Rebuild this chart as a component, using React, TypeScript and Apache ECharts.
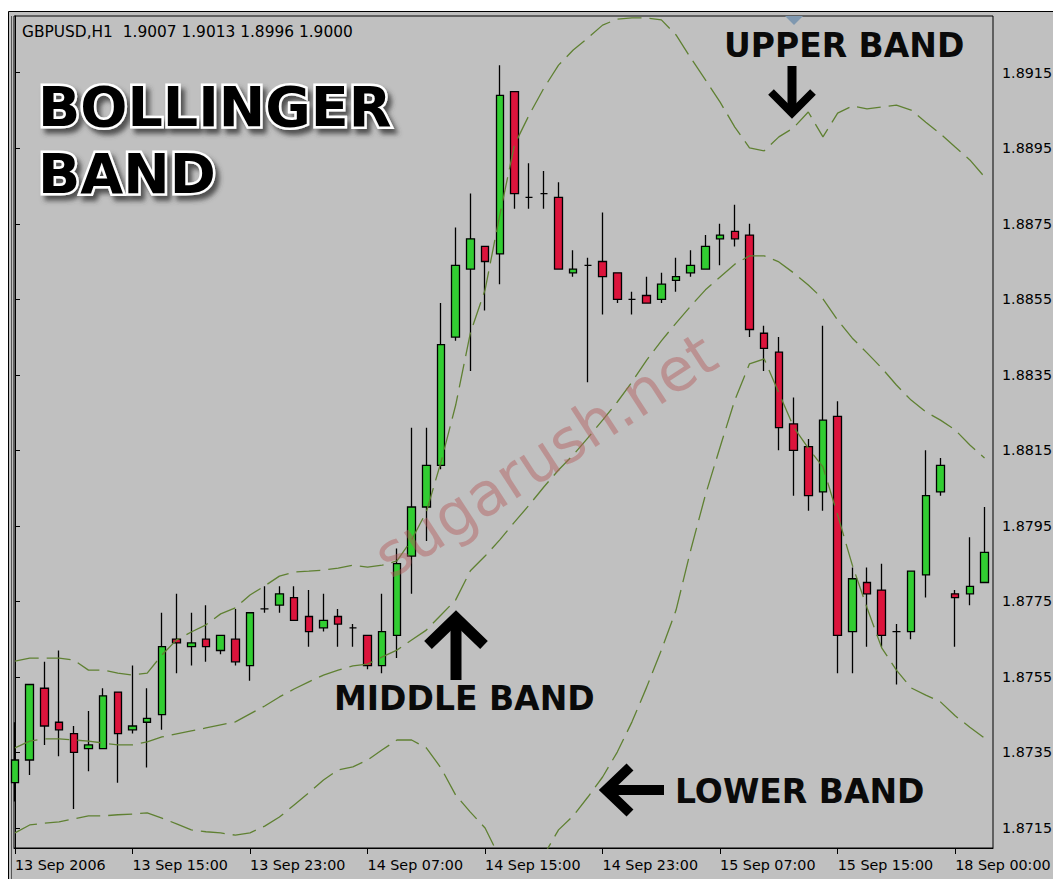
import React, { useEffect, useRef } from "react";
import * as echarts from "echarts";

const xTickBars = [0, 8, 16, 24, 32, 40, 48, 56, 64];
const xTickLabels = [
  "13 Sep 2006",
  "13 Sep 15:00",
  "13 Sep 23:00",
  "14 Sep 07:00",
  "14 Sep 15:00",
  "14 Sep 23:00",
  "15 Sep 07:00",
  "15 Sep 15:00",
  "18 Sep 00:00",
];
const priceTicks = [1.8715, 1.8735, 1.8755, 1.8775, 1.8795, 1.8815, 1.8835, 1.8855, 1.8875, 1.8895, 1.8915];

const opens = [
  1.8727, 1.8733, 1.8752, 1.8743, 1.874, 1.8736, 1.8736, 1.8751, 1.8741, 1.8743,
  1.8745, 1.8765, 1.8763, 1.8765, 1.8762, 1.8765, 1.8758, 1.8773, 1.8774, 1.8776,
  1.8771, 1.8768, 1.8771, 1.8768, 1.8766, 1.8758, 1.8766, 1.8787, 1.88, 1.8811,
  1.8845, 1.8863, 1.8869, 1.8867, 1.891, 1.8882, 1.8883, 1.8882, 1.8862, 1.8864,
  1.8865, 1.8862, 1.8855, 1.8856, 1.8855, 1.886, 1.8862, 1.8863, 1.8871, 1.8873,
  1.8872, 1.8846, 1.8841, 1.8822, 1.8816, 1.8804, 1.8824, 1.8767, 1.878, 1.8778,
  1.8767, 1.8767, 1.8782, 1.8804, 1.8777, 1.8777, 1.878,
];
const closes = [
  1.8733, 1.8753, 1.8742, 1.8741, 1.8735, 1.8737, 1.875, 1.874, 1.8742, 1.8744,
  1.8763, 1.8764, 1.8764, 1.8763, 1.8766, 1.8759, 1.8772, 1.8773, 1.8777, 1.877,
  1.8767, 1.877, 1.8769, 1.8768, 1.8758, 1.8767, 1.8785, 1.88, 1.8811, 1.8843,
  1.8864, 1.8871, 1.8865, 1.8909, 1.8883, 1.8882, 1.8883, 1.8863, 1.8863, 1.8864,
  1.8861, 1.8855, 1.8855, 1.8854, 1.8859, 1.8861, 1.8864, 1.8869, 1.8872, 1.8871,
  1.8847, 1.8842, 1.8821, 1.8815, 1.8803, 1.8823, 1.8766, 1.8781, 1.8777, 1.8766,
  1.8767, 1.8783, 1.8803, 1.8811, 1.8776, 1.8779, 1.8788,
];
const highs = [
  1.8743, 1.8753, 1.8759, 1.8762, 1.8742, 1.8746, 1.8752, 1.8751, 1.8758, 1.8752,
  1.8772, 1.8777, 1.8772, 1.8774, 1.8766, 1.8773, 1.8772, 1.8779, 1.8779, 1.8779,
  1.8778, 1.8777, 1.8773, 1.8769, 1.8766, 1.8777, 1.8789, 1.8821, 1.8821, 1.8854,
  1.8874, 1.8883, 1.8869, 1.8917, 1.891, 1.8891, 1.8889, 1.8886, 1.8868, 1.8866,
  1.8878, 1.8862, 1.8857, 1.8861, 1.8862, 1.8866, 1.8868, 1.8872, 1.8875, 1.888,
  1.8875, 1.8848, 1.8845, 1.8829, 1.8818, 1.8848, 1.8828, 1.8784, 1.8784, 1.8785,
  1.8769, 1.8783, 1.8815, 1.8813, 1.8778, 1.8792, 1.88,
];
const lows = [
  1.8722, 1.8729, 1.8737, 1.8734, 1.872, 1.873, 1.8736, 1.8727, 1.874, 1.8731,
  1.8741, 1.8756, 1.8758, 1.8759, 1.8761, 1.8758, 1.8754, 1.8772, 1.8772, 1.877,
  1.8763, 1.8767, 1.8763, 1.8763, 1.8757, 1.8756, 1.876, 1.8777, 1.8791, 1.881,
  1.8844, 1.8836, 1.8852, 1.8859, 1.8879, 1.8879, 1.8879, 1.8863, 1.8861, 1.8833,
  1.8851, 1.8854, 1.8851, 1.8854, 1.8854, 1.8857, 1.8861, 1.8863, 1.8864, 1.8869,
  1.8845, 1.8836, 1.8815, 1.8803, 1.8799, 1.8799, 1.8756, 1.8756, 1.8763, 1.8763,
  1.8753, 1.8765, 1.8776, 1.8803, 1.8763, 1.8774, 1.878,
];

const upperBand = [
  1.87592, 1.876, 1.876, 1.876, 1.87595, 1.87568, 1.87568, 1.8756, 1.87555, 1.8756,
  1.87608, 1.87648, 1.87669, 1.87688, 1.87717, 1.87733, 1.87767, 1.87791, 1.87817, 1.87828,
  1.8783, 1.87833, 1.87838, 1.87846, 1.87841, 1.87846, 1.87857, 1.87913, 1.87987, 1.88119,
  1.8827, 1.88461, 1.88575, 1.88773, 1.88959, 1.89038, 1.89109, 1.8917, 1.8921, 1.89242,
  1.89276, 1.89292, 1.89295, 1.89295, 1.8929, 1.8925, 1.89189, 1.89131, 1.89072, 1.89006,
  1.88951, 1.88943, 1.8898, 1.89004, 1.89046, 1.8898, 1.89043, 1.89062, 1.89054, 1.89059,
  1.89064, 1.89051, 1.89019, 1.88988, 1.88953, 1.88919, 1.88874,
];
const middleBand = [
  1.87362, 1.8738, 1.87386, 1.87386, 1.87383, 1.8738, 1.87375, 1.8737, 1.8737, 1.87378,
  1.87391, 1.87399, 1.87407, 1.87415, 1.87423, 1.87431, 1.87452, 1.87473, 1.87497, 1.87518,
  1.87537, 1.87555, 1.87568, 1.87579, 1.87584, 1.87603, 1.87621, 1.87648, 1.87674, 1.87714,
  1.87754, 1.87831, 1.8787, 1.87913, 1.8796, 1.88005, 1.88053, 1.88098, 1.88138, 1.88183,
  1.8823, 1.88278, 1.88331, 1.88389, 1.8844, 1.88487, 1.88532, 1.88575, 1.88609, 1.88643,
  1.88665, 1.88665, 1.88649, 1.8862, 1.88588, 1.88551, 1.88495, 1.88447, 1.88408, 1.88368,
  1.88323, 1.88283, 1.88252, 1.8823, 1.88204, 1.88164, 1.8813,
];
const lowerBand = [
  1.87137, 1.87158, 1.87163, 1.87166, 1.87174, 1.87182, 1.87182, 1.87185, 1.87187, 1.8719,
  1.87176, 1.87161, 1.87145, 1.8714, 1.87137, 1.87131, 1.87137, 1.87155, 1.87179, 1.87211,
  1.87243, 1.87277, 1.87304, 1.87312, 1.8733, 1.87357, 1.87383, 1.87383, 1.87362, 1.87309,
  1.87237, 1.87192, 1.8715, 1.87071, 1.87018, 1.87012, 1.87078, 1.87145, 1.87182, 1.87232,
  1.87285, 1.87351, 1.87431, 1.87523, 1.87621, 1.87727, 1.87886, 1.88032, 1.88159, 1.88283,
  1.88379, 1.88392, 1.88302, 1.88212, 1.88156, 1.88106, 1.87979, 1.87846, 1.87733, 1.87627,
  1.87568, 1.87521, 1.87502, 1.87484, 1.87447, 1.87417, 1.87388,
];

const FONT = "DejaVu Sans";
const BAND_COLOR = "#5f8032";

export default function App() {
  const ref = useRef<HTMLDivElement>(null);

  useEffect(() => {
    if (!ref.current) return;
    const chart = echarts.init(ref.current, undefined, { renderer: "svg" });

    const candleData = opens.map((o, i) => [i, o, closes[i], lows[i], highs[i]]);
    const toLine = (arr: number[]) => arr.map((v, i) => [i, v]);

    const bandSeries = (name: string, arr: number[]) => ({
      name,
      type: "line",
      data: toLine(arr),
      showSymbol: false,
      symbol: "none",
      silent: true,
      z: 5,
      clip: true,
      lineStyle: { color: BAND_COLOR, width: 1.3, type: [24, 8] },
    });

    const heavyText = (text: string, x: number, y: number, size: number) => ({
      type: "text",
      x,
      y,
      z: 100,
      silent: true,
      style: {
        text,
        fill: "#0a0a0a",
        font: `bold ${size}px "${FONT}"`,
        verticalAlign: "middle",
      },
    });

    const outlinedTitle = (text: string, x: number, y: number) => ({
      type: "text",
      x,
      y,
      z: 99,
      silent: true,
      style: {
        text,
        fill: "#000",
        stroke: "#ffffff",
        lineWidth: 5,
        font: `bold 55.5px "${FONT}"`,
        verticalAlign: "middle",
        shadowBlur: 5,
        shadowColor: "rgba(60,60,60,0.85)",
        shadowOffsetX: 4,
        shadowOffsetY: 5,
        textShadowBlur: 5,
        textShadowColor: "rgba(60,60,60,0.85)",
        textShadowOffsetX: 4,
        textShadowOffsetY: 5,
      },
    });

    const arrowStyle = (w: number) => ({ stroke: "#000", lineWidth: w, lineCap: "butt", lineJoin: "miter", fill: null });

    const option = {
      animation: false,
      backgroundColor: "#ffffff",
      grid: {
        left: 14,
        right: 60,
        top: 16,
        bottom: 31,
        show: true,
        backgroundColor: "#c0c0c0",
        borderColor: "#000",
        borderWidth: 1,
        containLabel: false,
        outerBoundsMode: "none",
      },
      xAxis: {
        type: "value",
        min: -0.068,
        max: 66.576,
        axisLine: { show: true, lineStyle: { color: "#000", width: 1 } },
        splitLine: { show: false },
        axisTick: { show: true, length: 6, lineStyle: { color: "#000" }, customValues: xTickBars },
        axisLabel: {
          customValues: xTickBars,
          formatter: (v: number) => xTickLabels[xTickBars.indexOf(Math.round(v))] ?? "",
          align: "left",
          margin: 10,
          color: "#000",
          fontFamily: FONT,
          fontSize: 14.3,
        },
      },
      yAxis: {
        type: "value",
        position: "right",
        min: 1.87097,
        max: 1.8930014,
        axisLine: { show: true, lineStyle: { color: "#000", width: 1 } },
        splitLine: { show: false },
        axisTick: { show: true, length: 5, lineStyle: { color: "#000" }, customValues: priceTicks },
        axisLabel: {
          customValues: priceTicks,
          formatter: (v: number) => v.toFixed(4),
          margin: 9,
          color: "#000",
          fontFamily: FONT,
          fontSize: 14.3,
        },
      },
      series: [
        {
          type: "candlestick",
          data: candleData,
          encode: { x: 0, y: [1, 2, 3, 4] },
          barWidth: 8,
          silent: true,
          z: 3,
          itemStyle: {
            color: "#32cd32",
            color0: "#dc143c",
            borderColor: "#000",
            borderColor0: "#000",
            borderWidth: 1.3,
          },
        },
        bandSeries("upper", upperBand),
        bandSeries("middle", middleBand),
        bandSeries("lower", lowerBand),
      ],
      graphic: [
        {
          type: "rect",
          z: -10,
          silent: true,
          shape: { x: 8.5, y: 11.5, width: 1060, height: 880 },
          style: { fill: "#c0c0c0", stroke: "#000", lineWidth: 1 },
        },
        {
          type: "line",
          z: -9,
          silent: true,
          shape: { x1: 11.5, y1: 16, x2: 11.5, y2: 879 },
          style: { stroke: "#555", lineWidth: 1 },
        },
        {
          type: "text",
          x: 22,
          y: 31.5,
          z: 100,
          silent: true,
          style: {
            text: "GBPUSD,H1  1.9007 1.9013 1.8996 1.9000",
            fill: "#000",
            font: `15.4px "${FONT}"`,
            verticalAlign: "middle",
          },
        },
        {
          type: "text",
          x: 545,
          y: 455,
          rotation: 0.576,
          z: 20,
          silent: true,
          style: {
            text: "sugarush.net",
            fill: "rgba(180, 90, 90, 0.45)",
            font: `60px "${FONT}"`,
            align: "center",
            verticalAlign: "middle",
          },
        },
        outlinedTitle("BOLLINGER", 38, 106),
        outlinedTitle("BAND", 38, 173.5),
        heavyText("UPPER BAND", 724, 45, 33),
        heavyText("MIDDLE BAND", 334, 698.5, 33),
        heavyText("LOWER BAND", 675, 791, 33),
        // down arrow (upper band)
        {
          type: "line",
          z: 100,
          silent: true,
          shape: { x1: 792, y1: 66, x2: 792, y2: 112 },
          style: arrowStyle(9),
        },
        {
          type: "polyline",
          z: 100,
          silent: true,
          shape: { points: [[771, 92], [792, 113], [813, 92]] },
          style: arrowStyle(8),
        },
        // up arrow (middle band)
        {
          type: "line",
          z: 100,
          silent: true,
          shape: { x1: 456, y1: 618, x2: 456, y2: 680 },
          style: arrowStyle(11),
        },
        {
          type: "polyline",
          z: 100,
          silent: true,
          shape: { points: [[428, 645], [456, 618], [484, 645]] },
          style: arrowStyle(11),
        },
        // left arrow (lower band)
        {
          type: "line",
          z: 100,
          silent: true,
          shape: { x1: 606, y1: 790, x2: 664, y2: 790 },
          style: arrowStyle(10),
        },
        {
          type: "polyline",
          z: 100,
          silent: true,
          shape: { points: [[630, 767], [606, 790], [630, 813]] },
          style: arrowStyle(10),
        },
        // shift marker
        {
          type: "polygon",
          z: 100,
          silent: true,
          shape: { points: [[785, 16], [803, 16], [794, 25]] },
          style: { fill: "#7f98b0" },
        },
      ],
    };

    chart.setOption(option as any);
    return () => chart.dispose();
  }, []);

  return (
    <div
      ref={ref}
      style={{ position: "absolute", left: 0, top: 0, width: 1053, height: 879, background: "#fff" }}
    />
  );
}
